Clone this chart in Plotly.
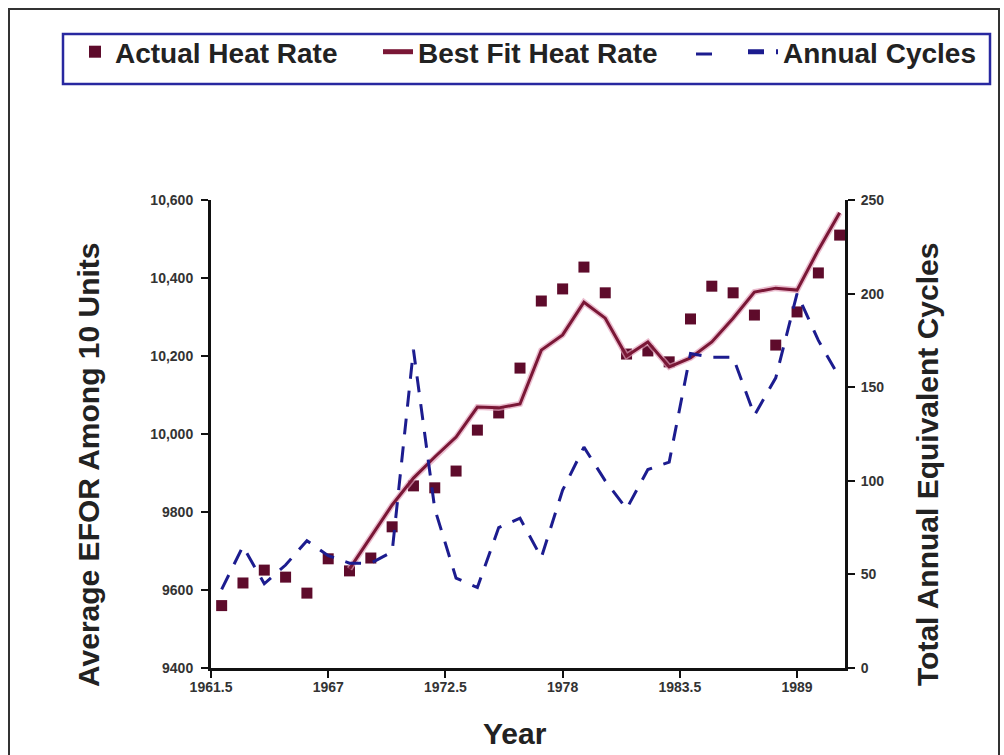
import plotly.graph_objects as go

years = list(range(1962, 1992))
actual_heat_rate = [9560, 9618, 9651, 9633, 9592, 9680, 9649, 9682, 9762, 9867,
                    9862, 9905, 10010, 10054, 10169, 10341, 10372, 10428, 10362, 10205,
                    10213, 10185, 10295, 10379, 10362, 10305, 10228, 10313, 10413, 10510]
fit_years = list(range(1968, 1992))
best_fit_heat_rate = [9654, 9736, 9818, 9887, 9941, 9992, 10069, 10067, 10077, 10215,
                      10254, 10338, 10297, 10200, 10236, 10172, 10195, 10236, 10297, 10364,
                      10374, 10369, 10472, 10567]
annual_cycles = [42, 65, 45, 55, 68, 60, 56, 56, 62, 170,
                 85, 48, 43, 75, 80, 59, 95, 118, 100, 85,
                 106, 110, 168, 166, 166, 135, 155, 200, 175, 155]

x_tickvals = [1961.5, 1967, 1972.5, 1978, 1983.5, 1989]
x_ticktext = ["1961.5", "1967", "1972.5", "1978", "1983.5", "1989"]
y_tickvals = [9400, 9600, 9800, 10000, 10200, 10400, 10600]
y_ticktext = ["9400", "9600", "9800", "10,000", "10,200", "10,400", "10,600"]
y2_tickvals = [0, 50, 100, 150, 200, 250]

FONT = "Liberation Sans, Arial, sans-serif"
MAROON = "#5e0b2b"
LINE = "#7a1736"
BLUE = "#1c1c8f"

fig = go.Figure()

fig.add_trace(go.Scatter(
    x=years, y=actual_heat_rate, mode="markers", name="Actual Heat Rate",
    marker=dict(symbol="square", size=11, color=MAROON), legend="legend",
))
# soft halo under the fitted line
fig.add_trace(go.Scatter(
    x=fit_years, y=best_fit_heat_rate, mode="lines", showlegend=False,
    hoverinfo="skip", line=dict(color="rgba(225,160,185,0.7)", width=6),
))
fig.add_trace(go.Scatter(
    x=fit_years, y=best_fit_heat_rate, mode="lines", name="Best Fit Heat Rate",
    line=dict(color=LINE, width=3), legend="legend2",
))
fig.add_trace(go.Scatter(
    x=years, y=annual_cycles, mode="lines", name="Annual Cycles", yaxis="y2",
    line=dict(color=BLUE, width=3, dash="16px,12px"), legend="legend3",
))

tickfont = dict(family=FONT, size=14, color="#333333", weight="bold")
titlefont = dict(family=FONT, size=30, color="#222222", weight="bold")
legfont = dict(family=FONT, size=28, color="#222222", weight="bold")


# plot area in page pixels: x 211..845, y 200..668
def px(page_x):
    return (page_x - 211) / 634


def py(page_y):
    return (668 - page_y) / 468


def leg(x):
    return dict(orientation="h", x=x, y=py(52), xanchor="left", yanchor="middle",
                borderwidth=0, bgcolor="rgba(0,0,0,0)", font=legfont,
                itemsizing="constant")


axis_common = dict(
    showgrid=False, zeroline=False, showline=True, linecolor="#111111", linewidth=3,
    ticks="outside", ticklen=7, tickwidth=2, tickcolor="#111111", tickfont=tickfont,
)

fig.update_layout(
    width=1004, height=755,
    margin=dict(l=211, r=159, t=200, b=87, autoexpand=False),
    paper_bgcolor="white", plot_bgcolor="white",
    font=dict(family=FONT),
    showlegend=True,
    legend=leg(px(75)),
    legend2=leg(px(378)),
    legend3=leg(px(743)),
    xaxis=dict(range=[1961.5, 1991.25], tickvals=x_tickvals, ticktext=x_ticktext,
               ticklabelstandoff=-3, **axis_common),
    yaxis=dict(range=[9400, 10600], tickvals=y_tickvals, ticktext=y_ticktext,
               ticklabelstandoff=5, **axis_common),
    yaxis2=dict(range=[0, 250], tickvals=y2_tickvals, overlaying="y", side="right",
                ticklabelstandoff=3, **axis_common),
    annotations=[
        dict(text="Year", xref="paper", yref="paper", x=px(515), y=py(733),
             xanchor="center", yanchor="middle", showarrow=False, font=titlefont),
        dict(text="Average EFOR Among 10 Units", xref="paper", yref="paper",
             x=px(88), y=py(465), xanchor="center", yanchor="middle",
             textangle=-90, showarrow=False, font=titlefont),
        dict(text="Total Annual Equivalent Cycles", xref="paper", yref="paper",
             x=px(927), y=py(465), xanchor="center", yanchor="middle",
             textangle=-90, showarrow=False, font=titlefont),
    ],
    shapes=[
        dict(type="rect", xref="paper", yref="paper",
             x0=px(9), x1=px(999), y0=-0.2, y1=py(9),
             line=dict(color="#333333", width=2), fillcolor="rgba(0,0,0,0)", layer="below"),
        dict(type="rect", xref="paper", yref="paper",
             x0=px(63), x1=px(990), y0=py(84), y1=py(34),
             line=dict(color="#2828a0", width=2.5), fillcolor="rgba(0,0,0,0)", layer="below"),
        # leading dash of the "Annual Cycles" legend sample
        dict(type="line", xref="paper", yref="paper",
             x0=px(696), x1=px(712), y0=py(54), y1=py(54),
             line=dict(color=BLUE, width=3)),
    ],
)

fig.write_html("out.html", config={"displayModeBar": False},
               post_script="document.body.style.margin='0';")
